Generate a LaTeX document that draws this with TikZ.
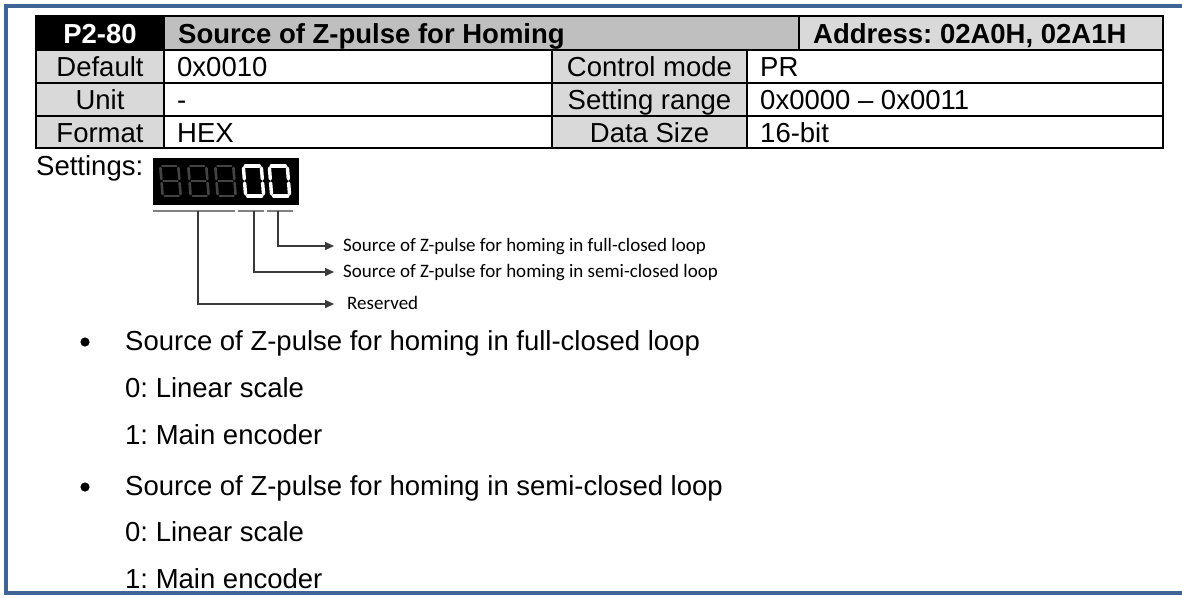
\documentclass[tikz,border=0pt]{standalone}
\usepackage{fontspec}
\setmainfont{Liberation Sans}
\newfontfamily\carl{Carlito}
\usetikzlibrary{arrows.meta}
\definecolor{frameblue}{HTML}{3F6597}
\definecolor{hdrgray}{HTML}{BFBFBF}
\definecolor{lblgray}{HTML}{D9D9D9}
\definecolor{conngray}{HTML}{3A3A3A}
\definecolor{dimseg}{HTML}{444444}
\newcommand{\segzero}[2]{%
  \draw[#2] (#1+3,166) -- (#1+17,166);
  \draw[#2] (#1+19,168) -- (#1+19,179);
  \draw[#2] (#1+19,183) -- (#1+19,194);
  \draw[#2] (#1+3,196) -- (#1+17,196);
  \draw[#2] (#1+1,183) -- (#1+1,194);
  \draw[#2] (#1+1,168) -- (#1+1,179);}
\newcommand{\segeight}[2]{%
  \segzero{#1}{#2}
  \draw[#2] (#1+3,181) -- (#1+17,181);}
\begin{document}
\frenchspacing
\begin{tikzpicture}[x=1pt,y=-1pt,
  big/.style={font=\fontsize{27.5}{33}\selectfont, inner sep=0},
  lefttxt/.style={big, anchor=base west},
  ctrtxt/.style={big, anchor=base},
  boldtxt/.style={font=\fontsize{27.5}{33}\selectfont\bfseries, inner sep=0},
  small/.style={font=\carl\fontsize{19}{22}\selectfont, inner sep=0, anchor=base west},
  tbl/.style={line width=2pt, draw=black},
  frame/.style={line width=4pt, draw=frameblue},
  conn/.style={line width=1.4pt, draw=conngray},
  arr/.style={conn, -{Triangle[length=9pt,width=8pt]}},
  dim/.style={line width=2.6pt, dimseg, line cap=round},
  lit/.style={line width=3.4pt, white, line cap=round},
]
\useasboundingbox (0,0) rectangle (1182,597);
\fill[white] (0,0) rectangle (1182,597);
% frame
\draw[frame] (1182,6) -- (6,6) -- (6,593) -- (1182,593);
% table fills
\fill[black] (36,16) rectangle (164,50);
\fill[hdrgray] (164,16) rectangle (799,50);
\fill[lblgray] (799,16) rectangle (1163,50);
\fill[lblgray] (36,50) rectangle (164,148);
\fill[lblgray] (552,50) rectangle (747,148);
% table lines
\draw[tbl] (36,16) rectangle (1163,148);
\draw[tbl] (36,50) -- (1163,50);
\draw[tbl] (36,83) -- (1163,83);
\draw[tbl] (36,116) -- (1163,116);
\draw[tbl] (164,16) -- (164,148);
\draw[tbl] (552,50) -- (552,148);
\draw[tbl] (747,50) -- (747,148);
\draw[tbl] (799,16) -- (799,50);
% table text
\node[boldtxt, anchor=base, text=white] (pnum) at (100,43) {P2-80};
\node[boldtxt, anchor=base west] (ptitle) at (178,43) {Source of Z-pulse for Homing};
\node[boldtxt, anchor=base west] (paddr) at (813,43) {Address: 02A0H, 02A1H};
\node[ctrtxt] (ldef) at (100,76.5) {Default};
\node[ctrtxt] (lunit) at (100,109.5) {Unit};
\node[ctrtxt] (lfmt) at (100,142) {Format};
\node[lefttxt] (vdef) at (177,76.5) {0x0010};
\node[lefttxt] (vunit) at (177,109.5) {-};
\node[lefttxt] (vfmt) at (177,142) {HEX};
\node[ctrtxt] (lmode) at (649.5,76.5) {Control mode};
\node[ctrtxt] (lrange) at (649.5,109.5) {Setting range};
\node[ctrtxt] (lsize) at (649.5,142) {Data Size};
\node[lefttxt] (vmode) at (760,76.5) {PR};
\node[lefttxt] (vrange) at (760,109.5) {0x0000 – 0x0011};
\node[lefttxt] (vsize) at (760,142) {16-bit};
% settings
\node[lefttxt] (settings) at (36,175) {Settings:};
\fill[black] (153,158) rectangle (299,205);
\begin{scope}[xslant=-0.08, shift={(-14,0)}]
\segeight{160}{dim}
\segeight{188}{dim}
\segeight{215}{dim}
\segzero{243}{lit}
\segzero{269}{lit}
\end{scope}
% underline segments
\draw[conn, line width=1.2pt, draw=gray] (153,211) -- (235,211);
\draw[conn, line width=1.2pt, draw=gray] (238,211) -- (264,211);
\draw[conn, line width=1.2pt, draw=gray] (267,211) -- (293,211);
\coordinate (dres) at (198,211);
\coordinate (dsemi) at (254,211);
\coordinate (dfull) at (278,211);
\coordinate (tfull) at (334,246);
\coordinate (tsemi) at (334,272);
\coordinate (tres) at (334,304);
\draw[arr] (dfull) |- (tfull);
\draw[arr] (dsemi) |- (tsemi);
\draw[arr] (dres) |- (tres);
\node[small] (lfull) at (343,251) {Source of Z-pulse for homing in full-closed loop};
\node[small] (lsemi) at (343,277) {Source of Z-pulse for homing in semi-closed loop};
\node[small] (lres) at (347,309) {Reserved};
% bullets
\fill (85,342) circle (4.6);
\fill (85,487) circle (4.6);
\node[lefttxt] (b1) at (125,350) {Source of Z-pulse for homing in full-closed loop};
\node[lefttxt] (b1a) at (125,397) {0: Linear scale};
\node[lefttxt] (b1b) at (125,444) {1: Main encoder};
\node[lefttxt] (b2) at (125,495) {Source of Z-pulse for homing in semi-closed loop};
\node[lefttxt] (b2a) at (125,541) {0: Linear scale};
\node[lefttxt] (b2b) at (125,588) {1: Main encoder};
\end{tikzpicture}
\end{document}
